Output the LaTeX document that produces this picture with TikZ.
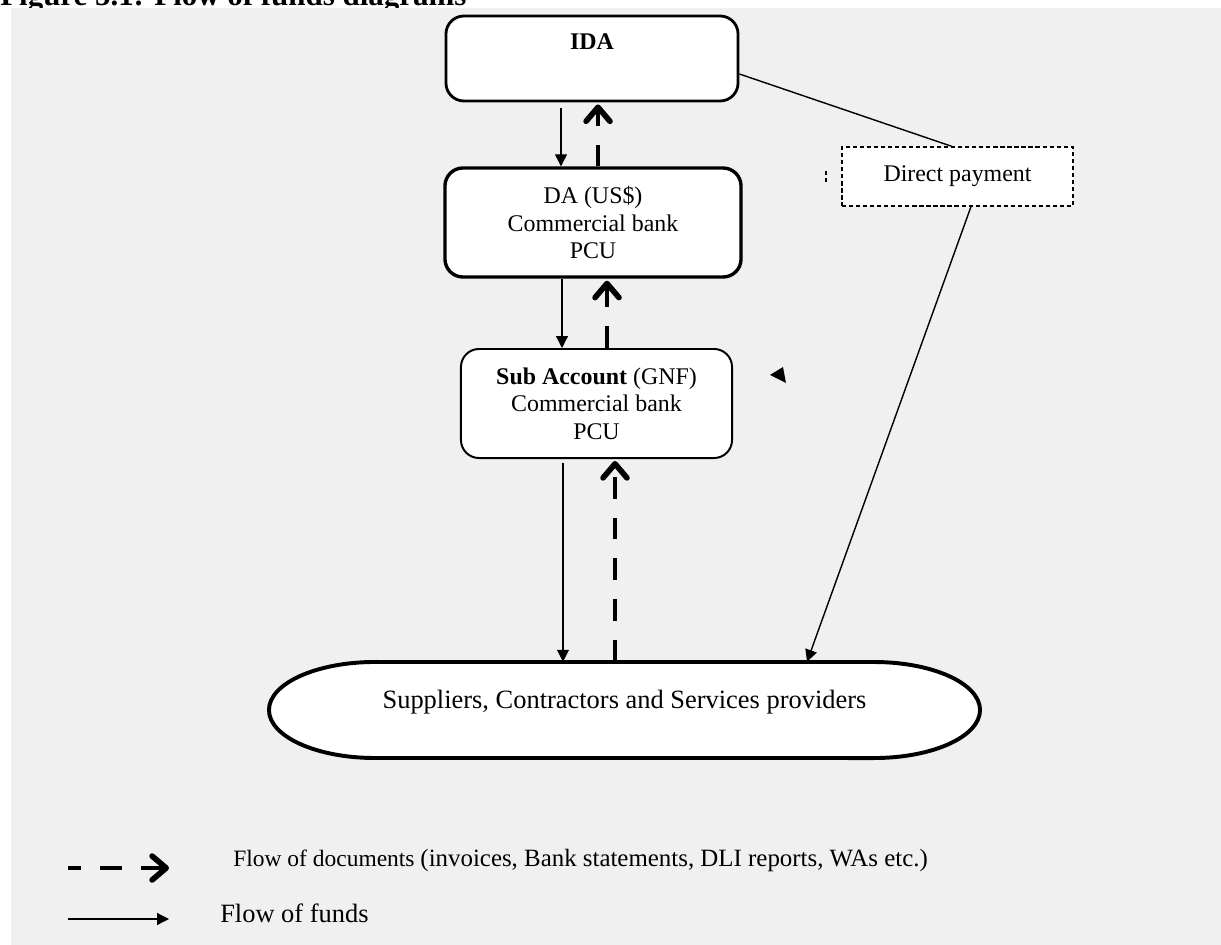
\documentclass[tikz,border=0pt]{standalone}
\usepackage{fontspec}
\setmainfont{Liberation Serif}
\usepackage{tikz}
\usetikzlibrary{arrows.meta}
\usetikzlibrary{positioning}
\definecolor{pagegray}{HTML}{F0F0F0}

\begin{document}
\begin{tikzpicture}[
	x=0.025cm, y=-0.025cm,
	font=\fontsize{17}{19.6}\selectfont,
	fundline/.style={line width=0.9pt, -{Triangle[length=8.5pt,width=8.5pt]}},
	docline/.style={line width=2.8pt, dash pattern=on 15.5pt off 13.5pt, -{Straight Barb[length=10pt,width=17pt,line width=4pt,round]}}
]
\tikzset{
    bankbox/.style = {rectangle, rounded corners=0.45cm, draw=black, fill=white, align=center},
    paybox/.style = {rectangle, draw=black, fill=white, line width=0.8pt, dash pattern=on 3pt off 2pt},
}
\useasboundingbox (0,0) rectangle (1221,945);
\node[anchor=base west, inner sep=0pt, font=\fontsize{22}{26}\selectfont\bfseries] (title) at (0,6) {Figure 5.1: Flow of funds diagrams};
\fill[pagegray] (11,8) rectangle (1221,945);

\node[bankbox, line width=2pt, minimum width=7.3cm, minimum height=2.125cm, text height=0.4cm, text depth=0.825cm] (ida) at (592,58.5) {\textbf{IDA}};
\node[bankbox, line width=2.4pt, minimum width=7.4cm, minimum height=2.725cm] (da) at (593,222.5) {DA (US\$)\\Commercial bank\\PCU};
\node[bankbox, line width=1.4pt, minimum width=6.775cm, minimum height=2.725cm] (sub) at (596.5,403.5) {\textbf{Sub Account} (GNF)\\Commercial bank\\PCU};
\node[paybox, minimum width=5.775cm, minimum height=1.475cm] (direct) at (957.5,176.5) {Direct payment};

\draw[line width=2.8pt, fill=white] (375,662) -- (874,662) arc[start angle=90, end angle=-90, x radius=2.65cm, y radius=1.2cm] -- (375,758) arc[start angle=270, end angle=90, x radius=2.65cm, y radius=1.2cm] -- cycle;
\node[minimum width=17.8cm, minimum height=2.4cm, text height=0.46cm, text depth=0.55cm, font=\fontsize{18.8}{22}\selectfont] (supp) at (624.5,710) {Suppliers, Contractors and Services providers};

\draw[fundline] ([xshift=-0.775cm,yshift=-0.15cm]ida.south) -- ([xshift=-0.775cm]ida.south |- da.north);
\draw[docline] ([xshift=0.125cm]da.north) -- ([xshift=0.125cm,yshift=-0.05cm]da.north |- ida.south);
\draw[fundline] ([xshift=-0.775cm]da.south) -- ([xshift=-0.775cm]da.south |- sub.north);
\draw[docline] ([xshift=0.35cm]da.south |- sub.north) -- ([xshift=0.35cm,yshift=-0.05cm]da.south);
\draw[fundline] ([xshift=-0.8375cm,yshift=-0.1cm]sub.south) -- ([xshift=-0.8375cm]sub.south |- supp.north);
\draw[docline] ([xshift=0.4625cm]sub.south |- supp.north) -- ([xshift=0.4625cm,yshift=-0.05cm]sub.south);

\draw[line width=1pt] ([yshift=-0.3875cm]ida.east) -- ([xshift=-0.1375cm]direct.north);
\draw[fundline, line width=1pt] ([xshift=0.3375cm]direct.south) -- ([xshift=4.5625cm]supp.north);

\draw[line width=0.8pt, dash pattern=on 3pt off 2pt] (826,171) -- (826,183);
\fill (770,375) -- (783,367) -- (786,383) -- cycle;

\coordinate (docstart) at (68,868);
\coordinate (docend) at (169,868);
\coordinate (fundstart) at (68,919);
\coordinate (fundend) at (169,919);
\draw[docline, dash phase=6.25pt] (docstart) -- (docend);
\draw[fundline] (fundstart) -- (fundend);
\node[anchor=base west, inner sep=0pt] (doclabel) at (233,866) {\fontsize{16.7}{20}\selectfont Flow of documents \fontsize{17.7}{20}\selectfont (invoices, Bank statements, DLI reports, WAs etc.)};
\node[anchor=base west, inner sep=0pt, font=\fontsize{18.8}{22}\selectfont] (fundlabel) at (220,922) {Flow of funds};
\end{tikzpicture}
\end{document}
